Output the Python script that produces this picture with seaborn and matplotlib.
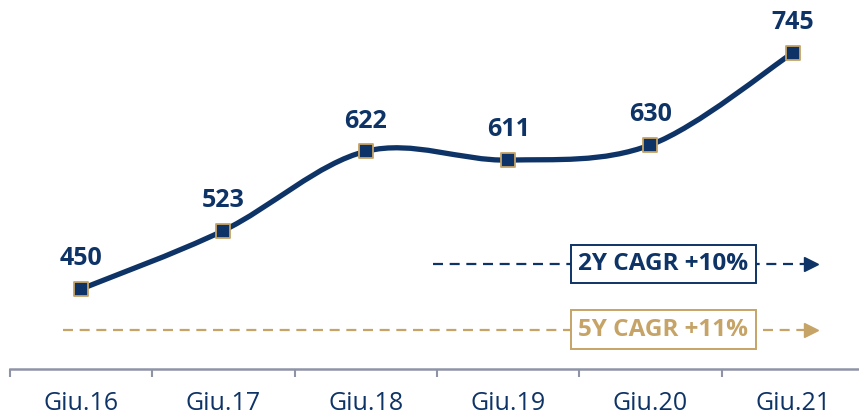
import matplotlib
matplotlib.use("Agg")
import matplotlib.pyplot as plt
from matplotlib.path import Path
from matplotlib.patches import PathPatch
import numpy as np
import pandas as pd
import seaborn as sns

# -----------------------------------------------------------------
# Data
# -----------------------------------------------------------------
periods = ["Giu.16", "Giu.17", "Giu.18", "Giu.19", "Giu.20", "Giu.21"]
values = [450, 523, 622, 611, 630, 745]

cagr_labels = ["2Y CAGR +10%", "5Y CAGR +11%"]

NAVY = "#0E3366"
GOLD = "#C6A467"
AXIS_GREY = "#8E94A8"

sns.set_theme(style="white")
plt.rcParams["font.family"] = ["Open Sans", "DejaVu Sans"]

df = pd.DataFrame({"period": periods, "value": values})
df["pos"] = np.arange(len(df))

fig = plt.figure(figsize=(8.59, 4.16), dpi=100)
ax = fig.add_axes([10 / 859, 47 / 416, 854 / 859, 369 / 416])

# smooth line through the points (Catmull-Rom style bezier, like Excel smoothing)
pts = df[["pos", "value"]].to_numpy(dtype=float)
verts = [tuple(pts[0])]
codes = [Path.MOVETO]
n = len(pts)
for i in range(n - 1):
    p_prev = pts[i - 1] if i > 0 else pts[i]
    p0, p1 = pts[i], pts[i + 1]
    p_next = pts[i + 2] if i + 2 < n else pts[i + 1]
    c1 = p0 + (p1 - p_prev) / 6
    c2 = p1 - (p_next - p0) / 6
    verts += [tuple(c1), tuple(c2), tuple(p1)]
    codes += [Path.CURVE4] * 3
ax.add_patch(PathPatch(Path(verts, codes), facecolor="none", edgecolor=NAVY,
                       lw=3.8, capstyle="butt", zorder=3))

sns.scatterplot(data=df, x="pos", y="value", marker="s", s=90, color=NAVY,
                edgecolor=GOLD, linewidth=1.3, zorder=4, ax=ax, legend=False)

for _, row in df.iterrows():
    ax.annotate(f"{row['value']}", (row["pos"], row["value"]),
                xytext=(0, 17), textcoords="offset points", ha="center",
                va="baseline", fontsize=18, fontweight="bold", color=NAVY)

# CAGR dashed arrows with boxed labels
cagr_y = [481, 399]
cagr_start = [2.47, -0.13]
cagr_colors = [NAVY, GOLD]
for label, y, x0, c in zip(cagr_labels, cagr_y, cagr_start, cagr_colors):
    ax.plot([x0, 5.08], [y, y], color=c, lw=1.6, dashes=(4.5, 3), zorder=2)
    ax.plot([5.13], [y], marker=">", markersize=10, color=c, zorder=2)
    ax.text(4.09, y, label, ha="center", va="center", fontsize=17.5,
            fontweight="bold", color=c, zorder=5,
            bbox=dict(boxstyle="square,pad=0.3", facecolor="white",
                      edgecolor=c, linewidth=1.4))

ax.set_xlim(-0.5, 5.5)
ax.set_ylim(350, 811)
ax.set_xlabel("")
ax.set_ylabel("")
ax.set_yticks([])
ax.set_xticks(df["pos"])
ax.set_xticklabels(periods, fontsize=18, color=NAVY)
ax.set_xticks(np.arange(-0.5, 6.0, 1.0), minor=True)
ax.tick_params(axis="x", which="major", length=0, pad=16)
ax.tick_params(axis="x", which="minor", length=5.5, width=1.5, color=AXIS_GREY,
               direction="out", bottom=True)

for side in ["top", "right", "left"]:
    ax.spines[side].set_visible(False)
ax.spines["bottom"].set_color(AXIS_GREY)
ax.spines["bottom"].set_linewidth(1.8)
ax.patch.set_alpha(0)

fig.savefig("out.png", dpi=100)
plt.close(fig)
